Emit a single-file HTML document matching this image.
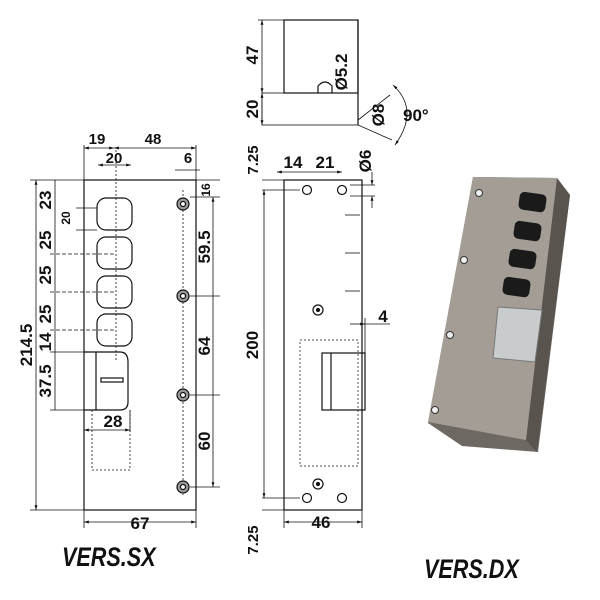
<!DOCTYPE html>
<html><head><style>body{margin:0;background:#fff}svg{display:block;font-size:15px}text{font-family:"Liberation Sans",sans-serif;font-weight:bold;fill:#111}</style></head><body>
<svg width="600" height="600" viewBox="0 0 600 600" xmlns="http://www.w3.org/2000/svg">
<defs><marker id="a" viewBox="0 0 10 10" refX="10" refY="5" markerWidth="6" markerHeight="6" orient="auto-start-reverse"><path d="M0,2 L10,5 L0,8z" fill="#111"/></marker></defs>
<g stroke="#111" fill="none" stroke-width="1.2">
<rect x="84" y="180" width="112" height="330"/>
<rect x="97" y="198" width="35" height="32" rx="9"/>
<rect x="97" y="237" width="35" height="32" rx="9"/>
<rect x="97" y="276" width="35" height="32" rx="9"/>
<rect x="97" y="314" width="35" height="32" rx="9"/>
<path d="M84,352 H120 Q128,352 128,362 V402 Q128,410 120,410 H84"/>
<line x1="96" y1="352" x2="96" y2="410"/>
<rect x="101" y="378" width="22" height="4"/>
<g stroke-dasharray="2,2" stroke-width="0.8"><line x1="116" y1="150" x2="116" y2="360"/><line x1="183" y1="190" x2="183" y2="495"/><path d="M92,410 V470 H130 V410"/></g>
<g fill="#999"><circle cx="183" cy="204" r="6"/><circle cx="183" cy="296" r="6"/><circle cx="183" cy="395" r="6"/><circle cx="183" cy="487" r="6"/></g>
<g fill="#fff"><circle cx="183" cy="204" r="2.5"/><circle cx="183" cy="296" r="2.5"/><circle cx="183" cy="395" r="2.5"/><circle cx="183" cy="487" r="2.5"/></g>
<g stroke-width="0.8">
<line x1="84" y1="145" x2="84" y2="180"/><line x1="196" y1="145" x2="196" y2="180"/>
<line x1="84" y1="148" x2="114" y2="148" marker-start="url(#a)" marker-end="url(#a)"/>
<line x1="114" y1="148" x2="196" y2="148" marker-start="url(#a)" marker-end="url(#a)"/>
<line x1="98" y1="165" x2="131" y2="165" marker-start="url(#a)" marker-end="url(#a)"/>
<line x1="175" y1="170" x2="200" y2="170"/>
<line x1="30" y1="180" x2="84" y2="180"/><line x1="30" y1="510" x2="84" y2="510"/>
<line x1="36" y1="180" x2="36" y2="510" marker-start="url(#a)" marker-end="url(#a)"/>
<line x1="55" y1="180" x2="55" y2="410"/>
<line x1="50" y1="254" x2="116" y2="254" stroke-dasharray="4,2"/>
<line x1="50" y1="292" x2="116" y2="292" stroke-dasharray="4,2"/>
<line x1="50" y1="330" x2="116" y2="330" stroke-dasharray="4,2"/>
<line x1="50" y1="352" x2="84" y2="352"/><line x1="50" y1="410" x2="84" y2="410"/>
<line x1="76" y1="208" x2="97" y2="208"/><line x1="76" y1="230" x2="97" y2="230"/>
<line x1="84" y1="430" x2="130" y2="430" marker-start="url(#a)" marker-end="url(#a)"/>
<line x1="130" y1="410" x2="130" y2="432"/>
<line x1="84" y1="510" x2="84" y2="528"/><line x1="196" y1="510" x2="196" y2="528"/>
<line x1="84" y1="522" x2="196" y2="522" marker-start="url(#a)" marker-end="url(#a)"/>
<line x1="196" y1="180" x2="220" y2="180"/><line x1="190" y1="197" x2="220" y2="197"/>
<line x1="190" y1="296" x2="220" y2="296"/><line x1="190" y1="395" x2="220" y2="395"/><line x1="190" y1="487" x2="220" y2="487"/>
<line x1="213" y1="197" x2="213" y2="487" marker-start="url(#a)" marker-end="url(#a)"/>
</g>
<rect x="284" y="20" width="74" height="73"/>
<rect x="262" y="93" width="96" height="32" stroke-width="0.8"/>
<line x1="358" y1="20" x2="358" y2="125"/>
<path d="M318,93 V86 Q325,78 332,86 V93"/>
<line x1="358" y1="120" x2="390" y2="95" stroke-width="0.8"/><line x1="358" y1="125" x2="392" y2="140" stroke-width="0.8"/>
<path d="M393,85 Q420,110 395,145" stroke-width="0.8" marker-start="url(#a)" marker-end="url(#a)"/>
<rect x="284" y="180" width="78" height="330"/>
<g fill="#fff"><circle cx="307" cy="190" r="4.5"/><circle cx="342" cy="190" r="4.5"/><circle cx="307" cy="498" r="4.5"/><circle cx="342" cy="498" r="4.5"/></g>
<circle cx="318" cy="310" r="5"/><circle cx="318" cy="310" r="1.5" fill="#111"/>
<circle cx="318" cy="484" r="5"/><circle cx="318" cy="484" r="1.5" fill="#111"/>
<rect x="322" y="353" width="43" height="57"/><line x1="331" y1="353" x2="331" y2="410"/>
<rect x="300" y="340" width="58" height="126" stroke-dasharray="2,2" stroke-width="0.7"/>
<g stroke-width="0.8">
<line x1="345" y1="215" x2="360" y2="215"/><line x1="345" y1="253" x2="360" y2="253"/><line x1="345" y1="291" x2="360" y2="291"/>
<line x1="258" y1="20" x2="284" y2="20"/>
<line x1="262" y1="20" x2="262" y2="93" marker-start="url(#a)" marker-end="url(#a)"/>
<line x1="262" y1="93" x2="262" y2="125" marker-start="url(#a)" marker-end="url(#a)"/>
<line x1="262" y1="180" x2="284" y2="180"/><line x1="262" y1="190" x2="300" y2="190"/>
<line x1="262" y1="498" x2="300" y2="498"/><line x1="262" y1="510" x2="284" y2="510"/>
<line x1="264" y1="190" x2="264" y2="498" marker-start="url(#a)" marker-end="url(#a)"/>
<line x1="277" y1="172" x2="307" y2="172" marker-start="url(#a)"/><line x1="307" y1="172" x2="342" y2="172" marker-end="url(#a)"/>
<line x1="350" y1="185" x2="375" y2="185"/><line x1="350" y1="196" x2="375" y2="196"/>
<line x1="372" y1="172" x2="372" y2="185" marker-end="url(#a)"/><line x1="372" y1="208" x2="372" y2="196" marker-end="url(#a)"/>
<line x1="284" y1="510" x2="284" y2="528"/><line x1="362" y1="510" x2="362" y2="528"/>
<line x1="284" y1="522" x2="362" y2="522" marker-start="url(#a)" marker-end="url(#a)"/>
<line x1="350" y1="324" x2="365" y2="324" marker-end="url(#a)"/><line x1="390" y1="324" x2="365" y2="324"/>
<line x1="365" y1="318" x2="365" y2="353"/>
</g>
</g>
<text x="97" y="144" text-anchor="middle">19</text><text x="153" y="144" text-anchor="middle">48</text>
<text x="114" y="163" text-anchor="middle">20</text><text x="188" y="163" text-anchor="middle">6</text>
<text x="140" y="529" text-anchor="middle" font-size="17">67</text><text x="113" y="427" text-anchor="middle" font-size="17">28</text>
<g text-anchor="middle">
<text transform="translate(32,345) rotate(-90)" font-size="17">214.5</text>
<text transform="translate(51,200) rotate(-90)" font-size="17">23</text>
<text transform="translate(70,218) rotate(-90)" font-size="12">20</text>
<text transform="translate(51,240) rotate(-90)" font-size="17">25</text>
<text transform="translate(51,275) rotate(-90)" font-size="17">25</text>
<text transform="translate(51,314) rotate(-90)" font-size="17">25</text>
<text transform="translate(51,342) rotate(-90)" font-size="17">14</text>
<text transform="translate(51,381) rotate(-90)" font-size="17">37.5</text>
<text transform="translate(210,190) rotate(-90)" font-size="12">16</text>
<text transform="translate(210,247) rotate(-90)" font-size="17">59.5</text>
<text transform="translate(210,346) rotate(-90)" font-size="17">64</text>
<text transform="translate(210,441) rotate(-90)" font-size="17">60</text>
<text transform="translate(258,55) rotate(-90)" font-size="17">47</text>
<text transform="translate(258,109) rotate(-90)" font-size="17">20</text>
<text transform="translate(347,72) rotate(-90)" font-size="17">Ø5.2</text>
<text transform="translate(384,115) rotate(-90)" font-size="17">Ø8</text>
<text transform="translate(258,160) rotate(-90)" font-size="15">7.25</text>
<text transform="translate(258,345) rotate(-90)" font-size="17">200</text>
<text transform="translate(258,540) rotate(-90)" font-size="15">7.25</text>
<text transform="translate(371,161) rotate(-90)" font-size="17">Ø6</text>
</g>
<text x="403" y="121" font-size="17">90°</text>
<text x="293" y="168" text-anchor="middle" font-size="17">14</text><text x="325" y="168" text-anchor="middle" font-size="17">21</text>
<text x="383" y="322" text-anchor="middle" font-size="17">4</text><text x="321" y="528" text-anchor="middle" font-size="17">46</text>
<text font-size="27" font-style="italic" transform="translate(62,566) scale(0.8,1)">VERS.SX</text>
<text font-size="27" font-style="italic" transform="translate(424,578) scale(0.8,1)">VERS.DX</text>
<polygon points="473,177 557,178 570,195 538,452 462,446 428,423" fill="#6e6862"/>
<polygon points="557,178 570,195 537,452 526,440" fill="#5a544e"/>
<polygon points="473,177 557,178 526,440 428,422" fill="#a49d95"/>
<g fill="#1a1a1a">
<rect x="519" y="193" width="27" height="18" rx="5" transform="rotate(8 532 202)"/>
<rect x="514" y="222" width="27" height="18" rx="5" transform="rotate(8 527 231)"/>
<rect x="509" y="250" width="27" height="18" rx="5" transform="rotate(8 522 259)"/>
<rect x="503" y="278" width="27" height="18" rx="5" transform="rotate(8 516 287)"/>
</g>
<polygon points="498,307 542,310 535,362 493,358" fill="#c9cccd" stroke="#777"/>
<g fill="#eee" stroke="#333" stroke-width="1"><circle cx="479" cy="193" r="3.5"/><circle cx="464" cy="260" r="3.5"/><circle cx="450" cy="335" r="3.5"/><circle cx="435" cy="410" r="3.5"/></g>
</svg>
</body></html>
